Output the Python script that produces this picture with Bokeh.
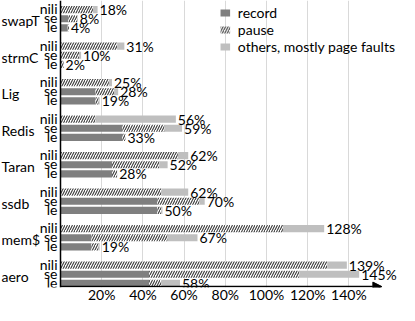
from bokeh.plotting import figure
from bokeh.models import (Range1d, FixedTicker, PrintfTickFormatter, Span, Arrow,
                          NormalHead, Legend, LegendItem, ColumnDataSource)
from bokeh.core.properties import value
from bokeh.embed import file_html
from bokeh.resources import INLINE
import numpy as np

groups = ["swapT", "strmC", "Lig", "Redis", "Taran", "ssdb", "mem$", "aero"]
modes = ["nili", "se", "le"]

# percent values per group, in order nili, se, le
record = [0, 3.8, 3.5,   0, 0, 0,     0, 17, 17,    0, 30, 30,
          0, 25, 25,     0, 47, 47,   0, 15, 15,    0, 43, 43]
pause = [15.8, 4.4, 0.6,  27.5, 9, 1.5,   23.5, 9, 1.5,   17, 20.5, 1.5,
         57, 23, 2.5,     49, 20.5, 2,    108, 37, 3.5,   129.5, 73, 6]
others = [2.2, 0.2, 0,    3.5, 1, 0,      1.5, 2, 0.5,    39, 8.5, 0,
          5, 4, 0,        13, 2.5, 0.5,   20, 14.5, 0.5,  9.5, 29, 9]
totals = [18, 8, 4,   31, 10, 2,   25, 28, 19,   56, 59, 33,
          62, 52, 28,  62, 70, 50,  128, 67, 19,  139, 145, 58]
tick_values = [20, 40, 60, 80, 100, 120, 140]

FONT = value("Lato")
DARK = "#7f7f7f"
LIGHT = "#bfbfbf"

n_modes = len(modes)
group_step = n_modes + 1
ys = np.array([g * group_step + i for g in range(len(groups)) for i in range(n_modes)], dtype=float)
rec = np.array(record, dtype=float)
pau = np.array(pause, dtype=float)
oth = np.array(others, dtype=float)

src = ColumnDataSource(dict(
    y=ys,
    r0=np.zeros_like(rec), r1=rec,
    p0=rec, p1=rec + pau,
    o0=rec + pau, o1=rec + pau + oth,
    lab=[f"{t}%" for t in totals],
    mode=modes * len(groups),
))
gsrc = ColumnDataSource(dict(
    y=[g * group_step + 1 for g in range(len(groups))],
    name=groups,
))

kpx = 2.06
zero_px = 60
W, H = 399, 305
x_start = -zero_px / kpx
x_end = (W - zero_px) / kpx
y_top = -1.0
y_bottom = ys.max() + 0.45

p = figure(width=W, height=H, output_backend="svg", toolbar_location=None,
           title=None,
           x_range=Range1d(x_start, x_end), y_range=Range1d(y_bottom, y_top),
           y_axis_location=None, min_border=0, min_border_left=0,
           min_border_right=0, min_border_top=0, min_border_bottom=0)
p.outline_line_color = None
p.background_fill_color = "white"
p.ygrid.grid_line_color = None
p.xgrid.ticker = FixedTicker(ticks=tick_values)
p.xgrid.grid_line_color = "#d9d9d9"
p.xgrid.grid_line_width = 1

xa = p.xaxis[0]
xa.ticker = FixedTicker(ticks=tick_values)
xa.formatter = PrintfTickFormatter(format="%d%%")
xa.axis_label = None
xa.axis_line_color = None
xa.major_tick_line_color = None
xa.minor_tick_line_color = None
xa.major_tick_out = 0
xa.major_tick_in = 0
xa.minor_tick_out = 0
xa.minor_tick_in = 0
xa.major_label_text_font = "Lato"
xa.major_label_text_font_size = "14px"
xa.major_label_text_color = "black"
xa.major_label_text_line_height = 0.8
xa.major_label_standoff = -2

bh = 0.78
r_rec = p.hbar(y="y", left="r0", right="r1", height=bh, source=src,
               fill_color=DARK, line_color=None)
r_pau = p.hbar(y="y", left="p0", right="p1", height=bh, source=src,
               fill_color="white", line_color=None, hatch_pattern="/",
               hatch_color="#3a3a3a", hatch_scale=5, hatch_weight=1.1)
r_oth = p.hbar(y="y", left="o0", right="o1", height=bh, source=src,
               fill_color=LIGHT, line_color=None)

p.text(x="o1", y="y", text="lab", source=src, text_font=FONT,
       text_font_size="14px", text_baseline="middle", text_align="left",
       x_offset=2, text_color="black")
p.text(x=0, y="y", text="mode", source=src, text_font=FONT,
       text_font_size="14px", text_baseline="middle", text_align="right",
       x_offset=-3, y_offset=-1, text_color="black")
p.text(x=x_start, y="y", text="name", source=gsrc, text_font=FONT,
       text_font_size="14px", text_baseline="middle", text_align="left",
       x_offset=1, y_offset=2, text_color="black")

p.add_layout(Span(location=0, dimension="height", line_color="black", line_width=1.5))
p.add_layout(Arrow(end=NormalHead(size=9, fill_color="black", line_color="black"),
                   x_start=0, y_start=y_bottom - 0.1, x_end=156, y_end=y_bottom - 0.1,
                   line_color="black", line_width=1.5))

legend = Legend(items=[LegendItem(label="record", renderers=[r_rec]),
                       LegendItem(label="pause", renderers=[r_pau]),
                       LegendItem(label="others, mostly page faults", renderers=[r_oth])],
                location="top_right", margin=4, padding=0, spacing=0,
                glyph_width=12, glyph_height=9, label_height=13,
                label_standoff=7, label_text_font="Lato",
                label_text_font_size="14px", label_text_color="black",
                background_fill_alpha=0, border_line_color=None)
p.add_layout(legend)

open("out.html", "w").write(file_html(p, INLINE))
